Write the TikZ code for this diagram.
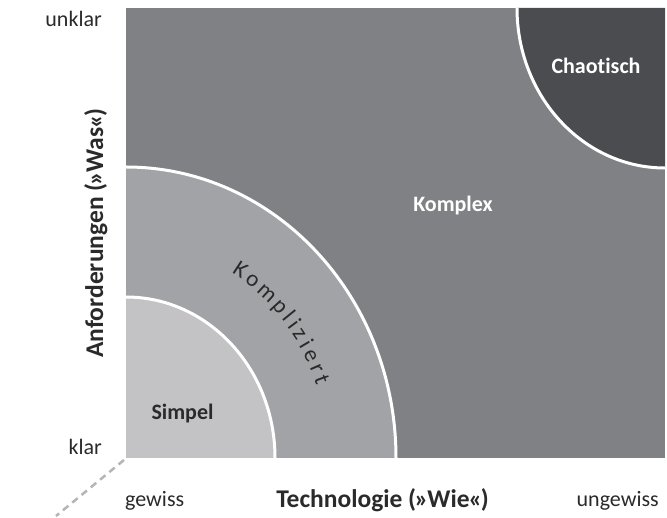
\documentclass[tikz,border=0pt]{standalone}
\usepackage{fontspec}
\setmainfont[Ligatures=NoCommon]{Carlito}
\usetikzlibrary{calc}
\definecolor{cSimpel}{HTML}{C3C3C5}
\definecolor{cKompl}{HTML}{A2A3A6}
\definecolor{cKomplex}{HTML}{808185}
\definecolor{cChaos}{HTML}{4B4C50}
\definecolor{cText}{HTML}{2A2A2A}
\definecolor{cDash}{HTML}{B5B5B5}
\tikzset{
  border/.style={draw=white, line width=3pt},
  scalelabel/.style={inner sep=0pt, text=cText, font=\fontsize{22}{26}\selectfont},
  axislabel/.style={inner sep=0pt, text=cText, font=\bfseries\fontsize{25.5}{30}\selectfont},
  regionlabel/.style={inner sep=0pt, font=\bfseries\fontsize{22}{26}\selectfont},
  komptext/.style={inner sep=0pt, text=cText, font=\fontsize{23}{26}\selectfont},
  diag/.style={cDash, line width=2.5pt, dash pattern=on 7pt off 5pt}
}
\begin{document}
\begin{tikzpicture}[x=1pt,y=1pt]
\useasboundingbox (0,0) rectangle (667,517);
% regions
\fill[cKomplex] (126,59) rectangle (665,509);
\fill[cChaos] (665,509) -- (517,509) arc[start angle=180, end angle=270, x radius=148, y radius=160] -- cycle;
\draw[border] (517,509) arc[start angle=180, end angle=270, x radius=148, y radius=160];
\fill[cKompl] (126,59) -- (396,59) arc[start angle=0, end angle=90, x radius=270, y radius=291] -- cycle;
\draw[border] (396,59) arc[start angle=0, end angle=90, x radius=270, y radius=291];
\fill[cSimpel] (126,59) -- (275,59) arc[start angle=0, end angle=90, x radius=149, y radius=161] -- cycle;
\draw[border] (275,59) arc[start angle=0, end angle=90, x radius=149, y radius=161];
% diagonal
\coordinate (corner) at (124,57);
\coordinate (diagend) at (56,1);
\draw[diag] (corner) -- (diagend);
% scale labels
\node[scalelabel, anchor=base east] (unklar) at (102,490) {unklar};
\node[scalelabel, anchor=base east] (klar) at (102,62) {klar};
\node[scalelabel, anchor=base west] (gewiss) at (125,10) {gewiss};
\node[scalelabel, anchor=base east] (ungewiss) at (659,10) {ungewiss};
% axis labels
\node[axislabel, anchor=base] (tech) at (382.5,9.5) {Technologie (\kern-0.06em»\kern-0.04em Wie\kern-0.04em«\kern-0.06em)};
\node[axislabel, anchor=base, rotate=90] (anf) at (103,284) {Anforderungen (\kern-0.06em»\kern-0.04em Was\kern-0.04em«\kern-0.06em)};
% region labels
\node[regionlabel, text=cText, anchor=base] (simpel) at (182.5,97) {Simpel};
\node[regionlabel, text=white, anchor=base] (komplex) at (453,305) {Komplex};
\node[regionlabel, text=white, anchor=base] (chaos) at (596,443) {Chaotisch};
% Kompliziert along the arc
\foreach \ch/\c [count=\n] in {K/0.26,o/0.9735,m/1.8265,p/2.6785,l/3.2455,i/3.6645,z/4.1665,i/4.6685,e/5.222,r/5.8355,t/6.3675}{
  \pgfmathsetmacro\th{56.8-36.4*(\c-0.26)/6.1075}
  \node[komptext, rotate=\th-90, anchor=base, name=kl\n] at ($(126,59)+(\th:202pt and 218pt)$) {\ch};
}
\end{tikzpicture}
\end{document}
